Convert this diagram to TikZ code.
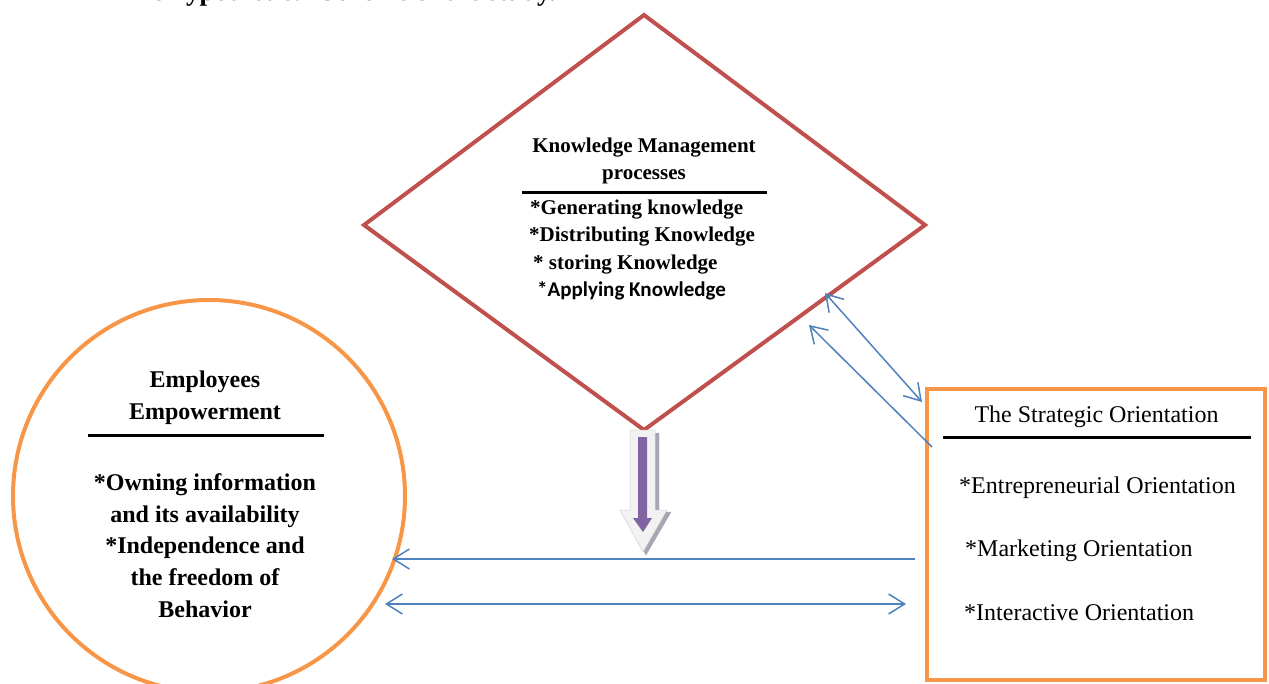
\documentclass[tikz,border=0pt]{standalone}
\usepackage{fontspec}
\setmainfont{Liberation Serif}
\newfontfamily\calibrifont{Carlito}
\usetikzlibrary{arrows.meta}

\definecolor{kmred}{HTML}{C0504D}
\definecolor{emporange}{HTML}{F79646}
\definecolor{linkblue}{HTML}{4F81BD}
\definecolor{flowpurple}{HTML}{8064A2}
\definecolor{arrowpale}{HTML}{F2F2F2}
\definecolor{arrowshade}{HTML}{A6A6B4}

\tikzset{
  barb/.tip={Straight Barb[length=16pt,width=20pt]},
  kmtext/.style={font=\fontsize{21}{25}\selectfont\bfseries, inner sep=0pt},
  emptext/.style={font=\fontsize{24}{28}\selectfont\bfseries, inner sep=0pt, anchor=base},
  sotext/.style={font=\fontsize{24}{28}\selectfont, inner sep=0pt, anchor=base west},
  headrule/.style={line width=3pt},
  link/.style={draw=linkblue, line width=1.5pt},
}

\begin{document}
\begin{tikzpicture}[x=1pt,y=-1pt]
\useasboundingbox (0,0) rectangle (1269,684);

% heading, mostly above the page edge
\node[font=\fontsize{27}{30}\selectfont\bfseries, inner sep=0pt, anchor=base east]
  (heading) at (556,1) {The hypothetical Scheme of the study.};

% ---------------- Knowledge Management diamond ----------------
\coordinate (kmN) at (644,15);
\coordinate (kmE) at (925,225);
\coordinate (kmS) at (644,430);
\coordinate (kmW) at (364,225);
\draw[kmred, line width=4pt, line join=miter] (kmN) -- (kmE) -- (kmS) -- (kmW) -- cycle;

\node[kmtext, anchor=base] (kmtitle) at (644,153) {Knowledge Management};
\node[kmtext, anchor=base] (kmsub) at (644,180) {processes};
\coordinate (kmruleL) at (522,193);
\coordinate (kmruleR) at (767,193);
\draw[headrule] (kmruleL) -- (kmruleR);
\node[kmtext, anchor=base west] (km1) at (530,215) {*Generating knowledge};
\node[kmtext, anchor=base west] (km2) at (529,242) {*Distributing Knowledge};
\node[kmtext, anchor=base west] (km3) at (533,270) {* storing Knowledge};
\node[kmtext, anchor=base west, font=\fontsize{21}{25}\selectfont\calibrifont\bfseries] (km4) at (537,297) {*Applying Knowledge};

% ---------------- Employees Empowerment circle ----------------
\node[circle, draw=emporange, line width=4pt, minimum size=392pt, inner sep=0pt] (emp) at (209,496) {};
\node[emptext] (emp1) at (205,388) {Employees};
\node[emptext] (emp2) at (205,420) {Empowerment};
\coordinate (empruleL) at (88,435);
\coordinate (empruleR) at (324,435);
\draw[headrule] (empruleL) -- (empruleR);
\node[emptext] (empa) at (205,490) {*Owning information};
\node[emptext] (empb) at (205,522) {and its availability};
\node[emptext] (empc) at (205,553) {*Independence and};
\node[emptext] (empd) at (205,585) {the freedom of};
\node[emptext] (empe) at (205,617) {Behavior};

% ---------------- Strategic Orientation box ----------------
\node[draw=emporange, line width=4.5pt, minimum width=338pt, minimum height=291pt, inner sep=0pt] (so) at (1096,534.5) {};
\node[sotext, anchor=base] (sotitle) at (1096.5,423) {The Strategic Orientation};
\coordinate (soruleL) at (943,437);
\coordinate (soruleR) at (1251,437);
\draw[headrule] (soruleL) -- (soruleR);
\node[sotext] (so1) at (959,493) {*Entrepreneurial Orientation};
\node[sotext] (so2) at (965,556) {*Marketing Orientation};
\node[sotext] (so3) at (964,620) {*Interactive Orientation};

% ---------------- block arrow below the diamond ----------------
\coordinate (flowtop) at (643,430);
\draw[arrowshade, fill=arrowshade]
  (634,433) -- (659,433) -- (659,512) -- (671,512) -- (646,555) -- (624,512) -- (634,512) -- cycle;
\draw[arrowpale!70!gray, fill=arrowpale, line width=0.5pt]
  (630,430) -- (655,430) -- (655,510) -- (667,510) -- (643,552) -- (620,510) -- (630,510) -- cycle;
\fill[flowpurple]
  (638,437) -- (647,437) -- (647,518) -- (652,518) -- (643,532) -- (633,518) -- (638,518) -- cycle;

% ---------------- connectors ----------------
\coordinate (dA) at (825,293);
\coordinate (sA) at (922,402);
\coordinate (dB) at (809,325);
\coordinate (sB) at (932,447);
\coordinate (sC) at (915,559);
\coordinate (eC) at (392,559);
\coordinate (eD) at (385,604);
\coordinate (sD) at (906,604);

\draw[link, {barb}-{barb}] (dA) -- (sA);
\draw[link, -{barb}] (sB) -- (dB);
\draw[link, -{barb}] (sC) -- (eC);
\draw[link, {barb}-{barb}] (eD) -- (sD);
\end{tikzpicture}
\end{document}
